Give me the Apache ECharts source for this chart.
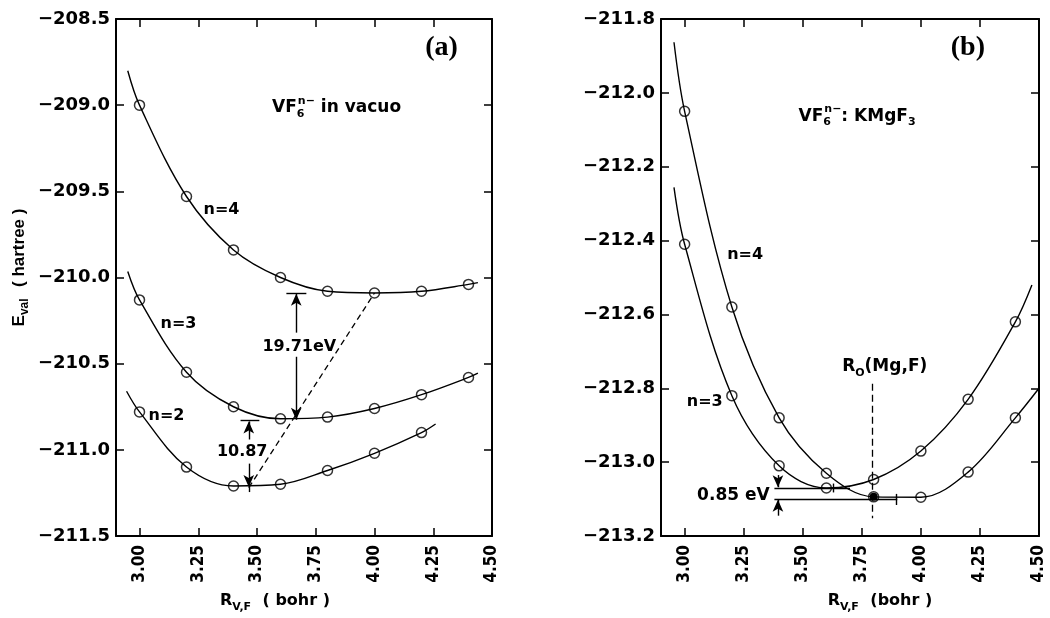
<!DOCTYPE html>
<html><head><meta charset="utf-8">
<script src="https://cdn.jsdelivr.net/npm/echarts@6/dist/echarts.min.js"></script>
<style>html,body{margin:0;padding:0;background:#fff}#c{width:1050px;height:618px}</style>
</head><body><div id="c"></div>
<script>
// ---------- data ----------
const R = [3.0, 3.2, 3.4, 3.6, 3.8, 4.0, 4.2, 4.4];
const xTicks = [3.0, 3.25, 3.5, 3.75, 4.0, 4.25, 4.5];
// panel (a): VF6 n- in vacuo
const aN4 = [-209.00, -209.53, -209.84, -210.00, -210.08, -210.09, -210.08, -210.04];
const aN4Ends = [[2.95, -208.80], [4.44, -210.03]];
const aN3 = [-210.13, -210.55, -210.75, -210.82, -210.81, -210.76, -210.68, -210.58];
const aN3Ends = [[2.95, -209.965], [4.44, -210.555]];
const aN2 = [-210.78, -211.10, -211.21, -211.20, -211.12, -211.02, -210.90];
const aN2Ends = [[2.945, -210.66], [4.26, -210.85]];
// panel (b): VF6 n- : KMgF3
const bN4 = [-212.05, -212.58, -212.88, -213.03, -213.094, -213.095, -213.027, -212.88];
const bN4Ends = [[2.955, -211.863], [4.5, -212.80]];
const bN3 = [-212.41, -212.82, -213.01, -213.07, -213.047, -212.97, -212.83, -212.62];
const bN3Ends = [[2.955, -212.256], [4.47, -212.52]];

// ---------- styles ----------
const BOLD = {fontFamily: 'DejaVu Sans', fontWeight: 'bold', color: '#000'};
const rich = {
  m:  Object.assign({fontSize: 16, lineHeight: 24}, BOLD),
  t:  Object.assign({fontSize: 17, lineHeight: 24}, BOLD),
  sb: Object.assign({fontSize: 11, lineHeight: 12, verticalAlign: 'bottom'}, BOLD),
  sb0:Object.assign({fontSize: 11, lineHeight: 12, verticalAlign: 'bottom', width: 1}, BOLD),
  sp: Object.assign({fontSize: 11, lineHeight: 12, verticalAlign: 'top'}, BOLD),
  ln: {fontFamily: 'Liberation Sans', fontWeight: 'bold', fontSize: 17, lineHeight: 24, color: '#000'},
  lsb:{fontFamily: 'Liberation Sans', fontWeight: 'bold', fontSize: 12, lineHeight: 12, verticalAlign: 'bottom', color: '#000'},
  ser:{fontFamily: 'Liberation Serif', fontWeight: 'bold', fontSize: 28, lineHeight: 32, color: '#000'}
};
const minus = s => s.replace('-', '\u2212');

function xAx(grid, pos, show, name, pad) {
  return {
    type: 'value', gridIndex: grid, position: pos, min: 2.9, max: 4.5,
    splitLine: {show: false},
    axisLine: {show: true, onZero: false, lineStyle: {color: '#000', width: 2}},
    axisTick: {show: true, inside: true, length: 8, customValues: xTicks, lineStyle: {color: '#000', width: 1.5}},
    axisLabel: {show: show, customValues: xTicks, rotate: 90, margin: 9, formatter: v => v.toFixed(2),
      fontFamily: "'DejaVu Sans Condensed', 'Liberation Sans Narrow', 'Liberation Sans'", fontWeight: 'bold', fontSize: 17, color: '#000'},
    name: name || '', nameLocation: 'middle', nameGap: 53,
    nameTextStyle: {rich: rich, padding: pad || 0}
  };
}
function yAx(grid, pos, show, mn, mx, step, name) {
  return {
    type: 'value', gridIndex: grid, position: pos, min: mn, max: mx, interval: step,
    splitLine: {show: false},
    axisLine: {show: true, onZero: false, lineStyle: {color: '#000', width: 2}},
    axisTick: {show: true, inside: true, length: 8, lineStyle: {color: '#000', width: 1.5}},
    axisLabel: {show: show, margin: 6, formatter: v => minus(v.toFixed(1)),
      fontFamily: 'DejaVu Sans', fontWeight: 'bold', fontSize: 18, color: '#000'},
    name: name || '', nameLocation: 'middle', nameGap: 85,
    nameTextStyle: {rich: rich, padding: [0, 0, 0, 20]}
  };
}

function curve(ends, vals, xi, yi) {
  const d = [ends[0]].concat(vals.map((v, i) => [R[i], v]), [ends[1]]);
  return {type: 'line', xAxisIndex: xi, yAxisIndex: yi, data: d, smooth: 0.35,
    showSymbol: false, symbol: 'none', silent: true, z: 2,
    lineStyle: {color: '#000', width: 1.4}};
}
function markers(vals, xi, yi, extra) {
  return Object.assign({type: 'scatter', xAxisIndex: xi, yAxisIndex: yi,
    data: vals.map((v, i) => [R[i], v]), symbol: 'circle', symbolSize: 10, silent: true, z: 3,
    itemStyle: {color: 'rgba(255,255,255,0)', borderColor: '#000', borderWidth: 1.5}}, extra || {});
}
const seg = (a, b, opt) => [Object.assign({coord: a, symbol: 'none'}, opt || {}), {coord: b, symbol: 'none'}];
const arr = (a, b) => [{coord: a, symbol: 'none'}, {coord: b, symbol: 'arrow', symbolSize: [8, 12]}];
const txt = (c, f, pos) => ({coord: c, label: {formatter: f, position: pos || 'inside', distance: 0}});

const mlBase = {silent: true, animation: false, label: {show: false}, symbol: ['none', 'none'],
  lineStyle: {color: '#000', width: 1.4, type: 'solid'}};
const mpBase = {silent: true, animation: false, symbol: 'circle', symbolSize: 1,
  itemStyle: {color: 'rgba(0,0,0,0)'}, label: {show: true, rich: rich, color: '#000'}};

// annotations panel (a)
const annA = {
  markLine: Object.assign({}, mlBase, {data: [
    seg([3.625, -210.09], [3.71, -210.09]),
    arr([3.667, -210.32], [3.667, -210.095]),
    arr([3.667, -210.46], [3.667, -210.825]),
    seg([3.43, -210.83], [3.51, -210.83]),
    arr([3.465, -210.94], [3.465, -210.835]),
    arr([3.465, -211.08], [3.465, -211.215]),
    seg([3.465, -211.215], [3.465, -211.245]),
    seg([3.465, -211.22], [4.0, -210.09], {lineStyle: {type: [6, 4], width: 1.3}})
  ]}),
  markPoint: Object.assign({}, mpBase, {data: [
    txt([4.285, -208.667], '{ser|(a)}'),
    txt([3.562, -209.015], '{t|VF}{sb0|6}{sp|n\u2212}{t| in vacuo}', 'right'),
    txt([3.349, -209.61], '{m|n=4}'),
    txt([3.166, -210.27], '{m|n=3}'),
    txt([3.115, -210.80], '{m|n=2}'),
    txt([3.68, -210.405], '{m|19.71eV}'),
    txt([3.437, -211.01], '{m|10.87}')
  ]})
};
// annotations panel (b)
const annB = {
  markLine: Object.assign({}, mlBase, {data: [
    seg([3.793, -212.788], [3.793, -213.152], {lineStyle: {type: [7, 4], width: 1.3}}),
    seg([3.38, -213.07], [3.70, -213.07]),
    seg([3.38, -213.10], [3.90, -213.10]),
    seg([3.63, -213.058], [3.63, -213.082]),
    seg([3.895, -213.086], [3.895, -213.116]),
    arr([3.395, -213.035], [3.395, -213.068]),
    arr([3.395, -213.145], [3.395, -213.102])
  ]}),
  markPoint: Object.assign({}, mpBase, {data: [
    txt([4.199, -211.878], '{ser|(b)}'),
    txt([3.48, -212.063], '{t|VF}{sb0|6}{sp|n\u2212}{t|: KMgF}{sb|3}', 'right'),
    txt([3.256, -212.438], '{m|n=4}'),
    txt([3.085, -212.838], '{m|n=3}'),
    txt([3.847, -212.741], '{t|R}{sb|O}{t|(Mg,F)}'),
    txt([3.362, -213.09], '{t|0.85 eV}', 'left')
  ]})
};
const dotB = {markPoint: {silent: true, animation: false, symbol: 'circle', symbolSize: 8,
  itemStyle: {color: '#000'}, label: {show: false},
  data: [{coord: [R[4], bN4[4]]}]}};

const option = {
  animation: false,
  backgroundColor: '#fff',
  textStyle: {fontFamily: 'DejaVu Sans'},
  grid: [
    {left: 116, top: 19, width: 376, height: 521},
    {left: 661, top: 19, width: 378, height: 522}
  ],
  xAxis: [
    xAx(0, 'bottom', true, '{m|R}{sb|V,F}   {m|( bohr )}', [0, 58, 0, 0]),
    xAx(0, 'top', false),
    xAx(1, 'bottom', true, '{m|R}{sb|V,F}   {m|(bohr )}', [0, 0, 0, 60]),
    xAx(1, 'top', false)
  ],
  yAxis: [
    yAx(0, 'left', true, -211.5, -208.5, 0.5, '{ln|E}{lsb|val}   {ln|( hartree )}'),
    yAx(0, 'right', false, -211.5, -208.5, 0.5),
    yAx(1, 'left', true, -213.2, -211.8, 0.2),
    yAx(1, 'right', false, -213.2, -211.8, 0.2)
  ],
  series: [
    curve(aN4Ends, aN4, 0, 0), markers(aN4, 0, 0),
    curve(aN3Ends, aN3, 0, 0), markers(aN3, 0, 0, annA),
    curve(aN2Ends, aN2, 0, 0), markers(aN2, 0, 0),
    curve(bN4Ends, bN4, 2, 2), markers(bN4, 2, 2, dotB),
    curve(bN3Ends, bN3, 2, 2), markers(bN3, 2, 2, annB)
  ]
};
const chart = echarts.init(document.getElementById('c'), null, {renderer: 'canvas'});
chart.setOption(option);
</script></body></html>
